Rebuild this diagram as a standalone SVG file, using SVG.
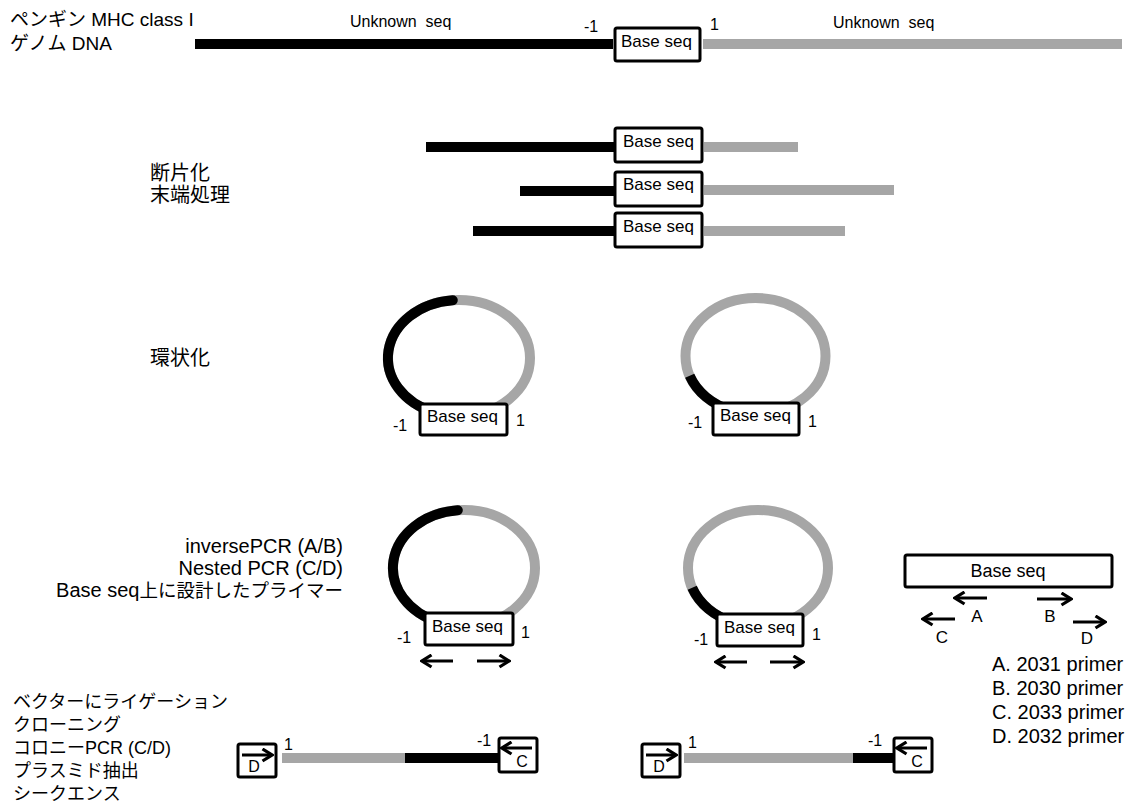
<svg xmlns="http://www.w3.org/2000/svg" width="1128" height="809" viewBox="0 0 1128 809">
<style>
text { font-family: "Liberation Sans", "Noto Sans CJK JP", Arial, sans-serif; fill: #000; white-space: pre; }
.box { fill: #fff; stroke: #000; stroke-width: 3; }
.blk { fill: #000; }
.gry { fill: #a6a6a6; }
.ring { fill: none; stroke: #a6a6a6; stroke-width: 10; }
.arc { fill: none; stroke: #000; stroke-width: 10; }
.arw { fill: none; stroke: #000; stroke-width: 3; marker-end: url(#ah); }
.s16 { font-size: 16px; }
.s17 { font-size: 17px; }
.s18 { font-size: 18px; }
.s20 { font-size: 20px; }
</style>
<defs>
<marker id="ah" viewBox="0 0 13 15" refX="11" refY="7.5" markerWidth="13" markerHeight="15" orient="auto" markerUnits="userSpaceOnUse">
<path d="M1.5,1.5 L11,7.5 L1.5,13.5" fill="none" stroke="#000" stroke-width="3.2"/>
</marker>
</defs>

<g id="title">
<text x="10" y="26" font-size="19">ペンギン MHC class I</text>
<text x="10" y="50" font-size="19">ゲノム DNA</text>
</g>

<g id="genome">
<rect class="blk" x="195" y="39" width="418" height="10"/>
<rect class="gry" x="703" y="39" width="419" height="10"/>
<rect class="box" x="615" y="28" width="85" height="33" rx="2"/>
<text class="s17" x="621" y="47">Base seq</text>
<text class="s16" x="350" y="27">Unknown  seq</text>
<text class="s16" x="833" y="28">Unknown  seq</text>
<text class="s16" x="584" y="32">-1</text>
<text class="s16" x="710" y="30">1</text>
</g>

<g id="step-fragment">
<text class="s20" x="150" y="180">断片化</text>
<text class="s20" x="150" y="202">末端処理</text>
</g>

<g id="fragment1">
<rect class="blk" x="426" y="142" width="189" height="10"/>
<rect class="gry" x="704" y="142" width="94" height="10"/>
<rect class="box" x="615" y="128" width="87" height="34" rx="2"/>
<text class="s17" x="623" y="147">Base seq</text>
</g>
<g id="fragment2">
<rect class="blk" x="520" y="186" width="95" height="10"/>
<rect class="gry" x="704" y="185" width="190" height="10"/>
<rect class="box" x="615" y="172" width="87" height="34" rx="2"/>
<text class="s17" x="623" y="190">Base seq</text>
</g>
<g id="fragment3">
<rect class="blk" x="473" y="226" width="142" height="10"/>
<rect class="gry" x="704" y="226" width="141" height="10"/>
<rect class="box" x="615" y="213" width="87" height="34" rx="2"/>
<text class="s17" x="623" y="232">Base seq</text>
</g>

<g id="step-circular">
<text class="s20" x="150" y="365">環状化</text>
</g>

<g id="circle1">
<ellipse class="ring" cx="459" cy="358" rx="71" ry="58"/>
<path class="arc" stroke-linecap="round" d="M452.8,300.2 A71,58 0 0 0 434.7,412.5"/>
<rect class="box" x="420" y="404" width="87" height="31" rx="2"/>
<text class="s17" x="427" y="422">Base seq</text>
<text class="s16" x="393" y="431">-1</text>
<text class="s16" x="516" y="426">1</text>
</g>

<g id="circle2">
<ellipse class="ring" cx="755.5" cy="356" rx="70" ry="58"/>
<path class="arc" d="M689.7,375.8 A70,58 0 0 0 731.6,410.5"/>
<rect class="box" x="713" y="403" width="86" height="32" rx="2"/>
<text class="s17" x="720" y="421">Base seq</text>
<text class="s16" x="688" y="428">-1</text>
<text class="s16" x="808" y="427">1</text>
</g>

<g id="step-pcr">
<text class="s20" x="343" y="553" text-anchor="end">inversePCR (A/B)</text>
<text class="s20" x="343" y="575" text-anchor="end">Nested PCR (C/D)</text>
<text class="s20" x="343" y="597" text-anchor="end">Base seq<tspan font-size="18.5">上に設計したプライマー</tspan></text>
</g>

<g id="circle3">
<ellipse class="ring" cx="464" cy="568" rx="71" ry="58"/>
<path class="arc" stroke-linecap="round" d="M457.8,510.2 A71,58 0 0 0 439.7,622.5"/>
<rect class="box" x="425" y="613" width="88" height="32" rx="2"/>
<text class="s17" x="432" y="632">Base seq</text>
<text class="s16" x="397" y="643">-1</text>
<text class="s16" x="521" y="638">1</text>
</g>

<g id="circle4">
<ellipse class="ring" cx="758" cy="568" rx="70" ry="58"/>
<path class="arc" d="M692.2,587.8 A70,58 0 0 0 734,622.5"/>
<rect class="box" x="717" y="614" width="86" height="32" rx="2"/>
<text class="s17" x="724" y="633">Base seq</text>
<text class="s16" x="694" y="645">-1</text>
<text class="s16" x="812" y="640">1</text>
</g>

<g id="legend">
<rect class="box" x="905" y="555" width="207" height="32" rx="2"/>
<text class="s18" x="1008" y="577" text-anchor="middle">Base seq</text>
<text class="s17" x="977" y="622" text-anchor="middle">A</text>
<text class="s17" x="1050" y="622" text-anchor="middle">B</text>
<text class="s17" x="942" y="643" text-anchor="middle">C</text>
<text class="s17" x="1087" y="644" text-anchor="middle">D</text>
<text class="s20" x="992" y="671">A. 2031 primer</text>
<text class="s20" x="992" y="695">B. 2030 primer</text>
<text class="s20" x="992" y="719">C. 2033 primer</text>
<text class="s20" x="992" y="743">D. 2032 primer</text>
</g>

<g id="step-clone">
<text class="s18" x="13" y="708">ベクターにライゲーション</text>
<text class="s18" x="13" y="731">クローニング</text>
<text class="s18" x="13" y="754">コロニーPCR (C/D)</text>
<text class="s18" x="13" y="777">プラスミド抽出</text>
<text class="s18" x="13" y="800">シークエンス</text>
</g>

<g id="clone1">
<rect class="gry" x="282" y="753" width="123" height="10"/>
<rect class="blk" x="405" y="753" width="95" height="10"/>
<rect class="box" x="238" y="744" width="38" height="33" rx="2"/>
<text class="s16" x="254" y="772" text-anchor="middle">D</text>
<rect class="box" x="499" y="738" width="38" height="34" rx="2"/>
<text class="s16" x="522" y="767" text-anchor="middle">C</text>
<text class="s16" x="284" y="750">1</text>
<text class="s16" x="477" y="746">-1</text>
</g>

<g id="clone2">
<rect class="gry" x="684" y="753" width="169" height="10"/>
<rect class="blk" x="853" y="753" width="42" height="10"/>
<rect class="box" x="642" y="744" width="38" height="33" rx="2"/>
<text class="s16" x="659" y="772" text-anchor="middle">D</text>
<rect class="box" x="894" y="738" width="38" height="34" rx="2"/>
<text class="s16" x="917" y="767" text-anchor="middle">C</text>
<text class="s16" x="688" y="748">1</text>
<text class="s16" x="868" y="746">-1</text>
</g>

<g id="connectors">
<path class="arw" d="M453,661 H422"/>
<path class="arw" d="M477,661 H509"/>
<path class="arw" d="M747,662 H716"/>
<path class="arw" d="M770,662 H803"/>
<path class="arw" d="M987,598 H955"/>
<path class="arw" d="M1037,599 H1071"/>
<path class="arw" d="M955,619 H923"/>
<path class="arw" d="M1073,622 H1105"/>
<path class="arw" d="M242,755 H272"/>
<path class="arw" d="M532,748 H502"/>
<path class="arw" d="M646,755 H676"/>
<path class="arw" d="M927,748 H897"/>
</g>
</svg>
